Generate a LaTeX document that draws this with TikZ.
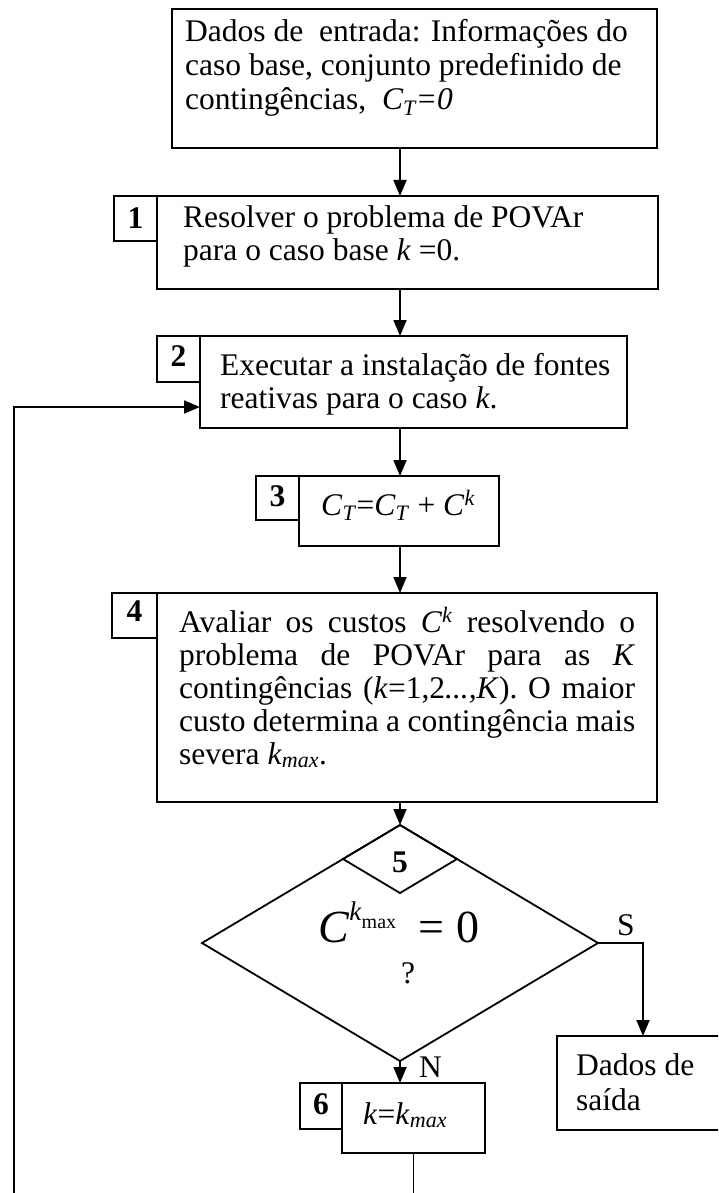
\documentclass[tikz,border=0pt]{standalone}
\usepackage{fontspec}
\setmainfont{Liberation Serif}
\usetikzlibrary{arrows.meta,shapes.geometric}

\newcommand{\bodyfont}{\fontsize{31.5}{34}\selectfont}
\newcommand{\myCT}{\textit{C}\textsubscript{\textit{T}}}
\newcommand{\myCk}{\textit{C}\textsuperscript{\textit{k}}}
\newcommand{\mykmax}{\textit{k}\textsubscript{\textit{max}}}
\newcommand{\jline}[1]{\makebox[456pt][s]{#1}}

\begin{document}
\begin{tikzpicture}[x=1pt,y=-1pt,
  box/.style={draw, line width=1.8pt, inner sep=0pt, outer sep=0pt, anchor=north west},
  dia/.style={draw, diamond, line width=1.8pt, inner sep=0pt, outer sep=0pt},
  txt/.style={anchor=base west, inner sep=0pt, font=\bodyfont},
  num/.style={anchor=base, inner sep=0pt, font=\bodyfont\bfseries},
  arr/.style={line width=1.8pt, -{Triangle[length=16pt,width=13pt]}},
  ln/.style={line width=1.8pt}]

\useasboundingbox (0,0) rectangle (718,1193);
\clip (0,0) rectangle (718,1193);

\coordinate (ax) at (400,0);

% box 0
\node[box, minimum width=485pt, minimum height=139pt] (b0) at (172,9) {};
\node[txt] (b0a) at (185,42) {Dados de\ \ entrada: Informações do};
\node[txt] (b0b) at (185,76) {caso base, conjunto predefinido de};
\node[txt] (b0c) at (185,110) {contingências,\ \ \textit{\myCT=0}};

% box 1
\node[box, minimum width=43pt, minimum height=45pt] (b1n) at (114,196) {};
\node[box, minimum width=501pt, minimum height=93pt] (b1) at (157,196) {};
\node[num] (n1) at (135.5,228) {1};
\node[txt] (b1a) at (183,227) {Resolver o problema de POVAr};
\node[txt] (b1b) at (183,260) {para o caso base \textit{k} =0.};

% box 2
\node[box, minimum width=43pt, minimum height=46pt] (b2n) at (157,336) {};
\node[box, minimum width=427pt, minimum height=92pt] (b2) at (200,336) {};
\node[num] (n2) at (178.5,366) {2};
\node[txt] (b2a) at (220,375) {Executar a instalação de fontes};
\node[txt] (b2b) at (220,408) {reativas para o caso \textit{k}.};

% box 3
\node[box, minimum width=43pt, minimum height=44pt] (b3n) at (256,476) {};
\node[box, minimum width=200pt, minimum height=70pt] (b3) at (299,476) {};
\node[num] (n3) at (277.5,506) {3};
\node[txt] (b3a) at (321,515) {\myCT=\myCT\ + \myCk};

% box 4
\node[box, minimum width=45pt, minimum height=45pt] (b4n) at (112,593) {};
\node[box, minimum width=500pt, minimum height=209pt] (b4) at (157,593) {};
\node[num] (n4) at (134.5,621) {4};
\node[txt] (b4a) at (179,632) {\jline{Avaliar os custos \myCk{} resolvendo o}};
\node[txt] (b4b) at (179,665) {\jline{problema de POVAr para as \textit{K}}};
\node[txt] (b4c) at (179,698) {\jline{contingências (\textit{k}=1,2\textit{...,K}). O maior}};
\node[txt] (b4d) at (179,731) {\jline{custo determina a contingência mais}};
\node[txt] (b4e) at (179,764) {severa \mykmax.};

% decision 5
\node[dia, minimum width=396pt, minimum height=236pt] (d) at (400,943) {};
\node[dia, minimum width=114pt, minimum height=68pt] (d5) at (400,859) {};
\node[num] (n5) at (400,872) {5};
\node[anchor=base west, inner sep=0pt] (f5) at (318,942)
  {{\fontsize{46}{46}\selectfont\textit{C}}\raisebox{22pt}{\fontsize{27}{27}\selectfont\textit{k}}\raisebox{14pt}{\fontsize{20}{20}\selectfont max}\hspace{22pt}{\fontsize{46}{46}\selectfont=\hspace{12pt}0}};
\node[txt, anchor=base] (q5) at (408,983) {?};
\node[txt] (S) at (617,935) {S};
\node[txt] (N) at (419,1077) {N};

% box 6
\node[box, minimum width=42pt, minimum height=46pt] (b6n) at (300,1083) {};
\node[box, minimum width=143pt, minimum height=70pt] (b6) at (342,1083) {};
\node[num] (n6) at (321,1114) {6};
\node[txt] (b6a) at (363,1124) {\textit{k}=\mykmax};

% output
\node[box, minimum width=172pt, minimum height=94pt] (out) at (557,1036) {};
\node[txt] (outa) at (576,1075) {Dados de};
\node[txt] (outb) at (576,1110) {saída};

% connectors
\draw[arr] (b0.south -| ax) -- (b1.north -| ax);
\draw[arr] (b1.south -| ax) -- (b2.north -| ax);
\draw[arr] (b2.south -| ax) -- (b3.north -| ax);
\draw[arr] (b3.south -| ax) -- (b4.north -| ax);
\draw[arr] (b4.south -| ax) -- (d.north);
\draw[arr] (d.south) -- (b6.north -| d.south);
\draw[arr] (d.east) -| (out.north);
\coordinate (fbbot) at (414,1240);
\coordinate (fbleft) at (14,1240);
\coordinate (fbin) at (200,407);
\draw[arr] (b6.south) -- (b6.south |- fbbot) -- (fbleft) |- (b2.west |- fbin);
\end{tikzpicture}
\end{document}
